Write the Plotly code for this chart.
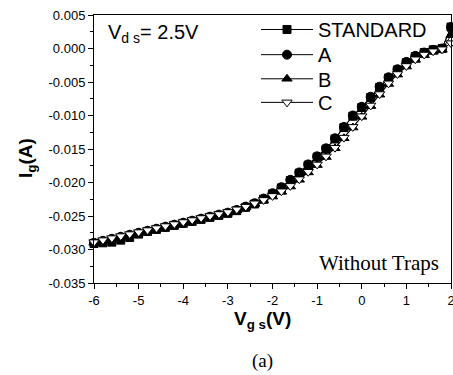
import plotly.graph_objects as go

vgs = [-6.0, -5.8, -5.6, -5.4, -5.2, -5.0, -4.8, -4.6, -4.4, -4.2, -4.0, -3.8, -3.6, -3.4,
       -3.2, -3.0, -2.8, -2.6, -2.4, -2.2, -2.0, -1.8, -1.6, -1.4, -1.2, -1.0, -0.8, -0.6,
       -0.4, -0.2, 0.0, 0.2, 0.4, 0.6, 0.8, 1.0, 1.2, 1.4, 1.6, 1.8, 2.0]

ig_standard = [-0.0291, -0.0290, -0.0289, -0.0286, -0.0282, -0.0277, -0.0273, -0.0270, -0.0267,
               -0.0264, -0.0261, -0.0258, -0.0255, -0.0252, -0.0249, -0.0246, -0.0242, -0.0237,
               -0.0232, -0.0225, -0.0217, -0.0208, -0.0197, -0.0186, -0.0174, -0.0162, -0.0150,
               -0.0135, -0.0118, -0.0101, -0.0088, -0.0073, -0.0058, -0.0044, -0.0032, -0.0021,
               -0.0012, -0.0006, -0.0002, 0.0000, 0.0032]
ig_a = [-0.0290, -0.0287, -0.0284, -0.0281, -0.0278, -0.0275, -0.0272, -0.0269, -0.0266,
        -0.0263, -0.0260, -0.0257, -0.0254, -0.0251, -0.0248, -0.0245, -0.0241, -0.0236,
        -0.0231, -0.0224, -0.0216, -0.0207, -0.0196, -0.0185, -0.0173, -0.0161, -0.0149,
        -0.0134, -0.0117, -0.0100, -0.0087, -0.0072, -0.0057, -0.0043, -0.0031, -0.0020,
        -0.0011, -0.0006, -0.0002, 0.0000, 0.0032]
ig_b = [-0.0290, -0.0287, -0.0284, -0.0281, -0.0278, -0.0275, -0.0272, -0.0269, -0.0266,
        -0.0263, -0.0260, -0.0257, -0.0254, -0.0251, -0.0248, -0.0245, -0.0241, -0.0237,
        -0.0232, -0.0227, -0.0221, -0.0214, -0.0206, -0.0196, -0.0185, -0.0174, -0.0162,
        -0.0149, -0.0134, -0.0118, -0.0102, -0.0086, -0.0069, -0.0053, -0.0039, -0.0027,
        -0.0017, -0.0010, -0.0005, -0.0002, 0.0020]
ig_c = [-0.0289, -0.0286, -0.0283, -0.0280, -0.0277, -0.0274, -0.0271, -0.0268, -0.0265,
        -0.0262, -0.0259, -0.0256, -0.0253, -0.0250, -0.0247, -0.0244, -0.0240, -0.0236,
        -0.0231, -0.0226, -0.0220, -0.0213, -0.0205, -0.0195, -0.0184, -0.0173, -0.0161,
        -0.0148, -0.0133, -0.0117, -0.0101, -0.0085, -0.0068, -0.0052, -0.0038, -0.0026,
        -0.0016, -0.0009, -0.0004, -0.0001, 0.0008]

series_names = ["STANDARD", "A", "B", "C"]

x_ticks = [-6, -5, -4, -3, -2, -1, 0, 1, 2]
x_labels = ["-6", "-5", "-4", "-3", "-2", "-1", "0", "1", "2"]
y_ticks = [0.005, 0.0, -0.005, -0.010, -0.015, -0.020, -0.025, -0.030, -0.035]
y_labels = ["0.005", "0.000", "-0.005", "-0.010", "-0.015", "-0.020", "-0.025", "-0.030", "-0.035"]

FONT = "Arial, Liberation Sans, sans-serif"
SERIF = "Times New Roman, Liberation Serif, serif"

markers = [
    dict(symbol="square", size=8, color="black", line=dict(color="black", width=1)),
    dict(symbol="circle", size=9, color="black", line=dict(color="black", width=1)),
    dict(symbol="triangle-up", size=9, color="black", line=dict(color="black", width=1)),
    dict(symbol="triangle-down", size=9, color="white", line=dict(color="black", width=1)),
]
legend_ids = ["legend", "legend2", "legend3", "legend4"]
legend_rows_y = [0.946, 0.852, 0.762, 0.674]

fig = go.Figure()
for name, ys, mk, lid in zip(series_names, [ig_standard, ig_a, ig_b, ig_c], markers, legend_ids):
    fig.add_trace(go.Scatter(x=vgs, y=ys, mode="lines+markers", name=name,
                             line=dict(color="black", width=1), marker=mk,
                             cliponaxis=False, legend=lid))

axis_common = dict(showline=True, linecolor="black", linewidth=1, mirror=True,
                   ticks="outside", ticklen=5, tickcolor="black", tickwidth=1,
                   showgrid=False, zeroline=False, ticklabeloverflow="allow",
                   automargin=False,
                   tickfont=dict(family=FONT, size=13, color="black"))

fig.update_xaxes(range=[-6, 2], tickvals=x_ticks, ticktext=x_labels,
                 minor=dict(ticks="outside", ticklen=3, dtick=0.5, tick0=0, tickcolor="black"),
                 **axis_common)
fig.update_yaxes(range=[-0.035, 0.005], tickvals=y_ticks, ticktext=y_labels,
                 minor=dict(ticks="outside", ticklen=3, dtick=0.0025, tick0=0, tickcolor="black"),
                 **axis_common)

leg_common = dict(x=0.4538, xanchor="left", yanchor="middle",
                  bgcolor="rgba(0,0,0,0)", borderwidth=0,
                  font=dict(family=FONT, size=20, color="black"), itemwidth=52)

layout_legends = {lid: dict(y=ly, **leg_common) for lid, ly in zip(legend_ids, legend_rows_y)}

fig.update_layout(
    width=453, height=375,
    margin=dict(l=94, r=2, t=15, b=92, autoexpand=False),
    plot_bgcolor="white", paper_bgcolor="white",
    showlegend=True,
    annotations=[
        dict(text="V<sub>d s</sub>= 2.5V", x=0.035, y=0.93, xref="paper", yref="paper",
             xanchor="left", yanchor="middle", showarrow=False,
             font=dict(family=FONT, size=20, color="black")),
        dict(text="Without Traps", x=0.972, y=0.075, xref="paper", yref="paper",
             xanchor="right", yanchor="middle", showarrow=False,
             font=dict(family=SERIF, size=21, color="black")),
        dict(text="<b>V<sub>g s</sub>(V)</b>", x=(262 - 94) / 357, y=-(320 - 283) / 268,
             xref="paper", yref="paper", xanchor="center", yanchor="middle", showarrow=False,
             font=dict(family=FONT, size=19, color="black")),
        dict(text="<b>I<sub>g</sub>(A)</b>", x=-(94 - 27) / 357, y=(283 - 158) / 268,
             xref="paper", yref="paper", xanchor="center", yanchor="middle", showarrow=False,
             textangle=-90, font=dict(family=FONT, size=19, color="black")),
        dict(text="(a)", x=(262 - 94) / 357, y=-(361 - 283) / 268, xref="paper", yref="paper",
             xanchor="center", yanchor="middle", showarrow=False,
             font=dict(family=SERIF, size=19, color="black")),
    ],
    **layout_legends,
)

fig.write_html("out.html")
